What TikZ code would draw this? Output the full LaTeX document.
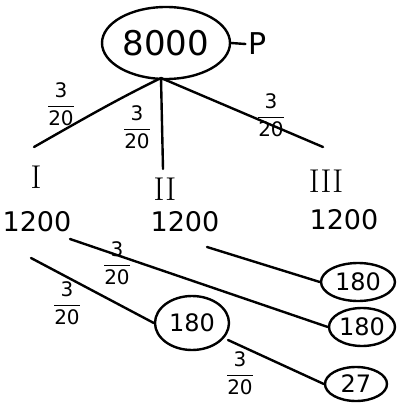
\documentclass[tikz,border=0pt]{standalone}
\usepackage{fontspec}
\setsansfont{DejaVu Sans}
\usetikzlibrary{shapes.geometric}
\tikzset{
  ink/.style={line width=2.4pt, line cap=round, line join=round, black},
  oval/.style={ellipse, draw, ink, inner sep=0pt},
  big/.style={font=\sffamily\fontsize{34}{34}\selectfont},
  mid/.style={font=\sffamily\fontsize{27}{27}\selectfont},
  circ/.style={font=\sffamily\fontsize{24}{24}\selectfont},
  rom/.style={font=\fontsize{33}{33}\selectfont},
  frac/.style={font=\sffamily\fontsize{20}{20}\selectfont, inner sep=0pt}
}
\newcommand{\fr}{$\displaystyle\frac{\mathsf{3}}{\mathsf{20}}$}
\begin{document}
\begin{tikzpicture}[x=1pt,y=-1pt]
\useasboundingbox (0,0) rectangle (397,412);
% top ellipse
\node[oval, minimum width=128pt, minimum height=72pt, big] (top) at (166,43) {8000};
\node[mid, font=\sffamily\fontsize{30}{30}\selectfont] (p) at (258,44) {P};
\draw[ink] (top.east) -- (p.west);
\coordinate (apex) at (161,78);
% roman numerals
\node[rom] (r1) at (36,177) {I};
\node[rom] (r2) at (165,189) {II};
\node[rom] (r3) at (326,181) {III};
\coordinate (e1) at (34,147);
\coordinate (e2) at (163,169);
\coordinate (e3) at (323,147);
\draw[ink] (apex) .. controls (120,98) and (90,115) .. (e1);
\draw[ink] (apex) -- (e2);
\draw[ink] (apex) -- (e3);
\node[frac] (f1) at (61,104) {\fr};
\node[frac] (f2) at (137,127) {\fr};
\node[frac] (f3) at (271,115) {\fr};
% 1200 row
\node[mid] (a1) at (37,222) {1200};
\node[mid] (a2) at (185,222) {1200};
\node[mid] (a3) at (344,220) {1200};
% result circles
\node[oval, minimum width=74pt, minimum height=38pt, circ] (c1) at (358,282) {180};
\node[oval, minimum width=66pt, minimum height=38pt, circ] (c2) at (362,327) {180};
\node[oval, minimum width=74pt, minimum height=54pt, circ] (c3) at (192,323) {180};
\node[oval, minimum width=62pt, minimum height=34pt, circ] (c4) at (356,384) {27};
% connectors
\coordinate (s1) at (70,239);
\coordinate (s2) at (207,247);
\coordinate (s3) at (31,258);
\coordinate (s4) at (228,340);
\draw[ink] (s1) -- (c2.west);
\draw[ink] (s2) -- (c1.west);
\draw[ink] (s3) -- (c3.west);
\draw[ink] (s4) -- (c4.west);
\node[frac] (f4) at (117,263) {\fr};
\node[frac] (f5) at (67,303) {\fr};
\node[frac] (f6) at (240,373) {\fr};
\end{tikzpicture}
\end{document}
